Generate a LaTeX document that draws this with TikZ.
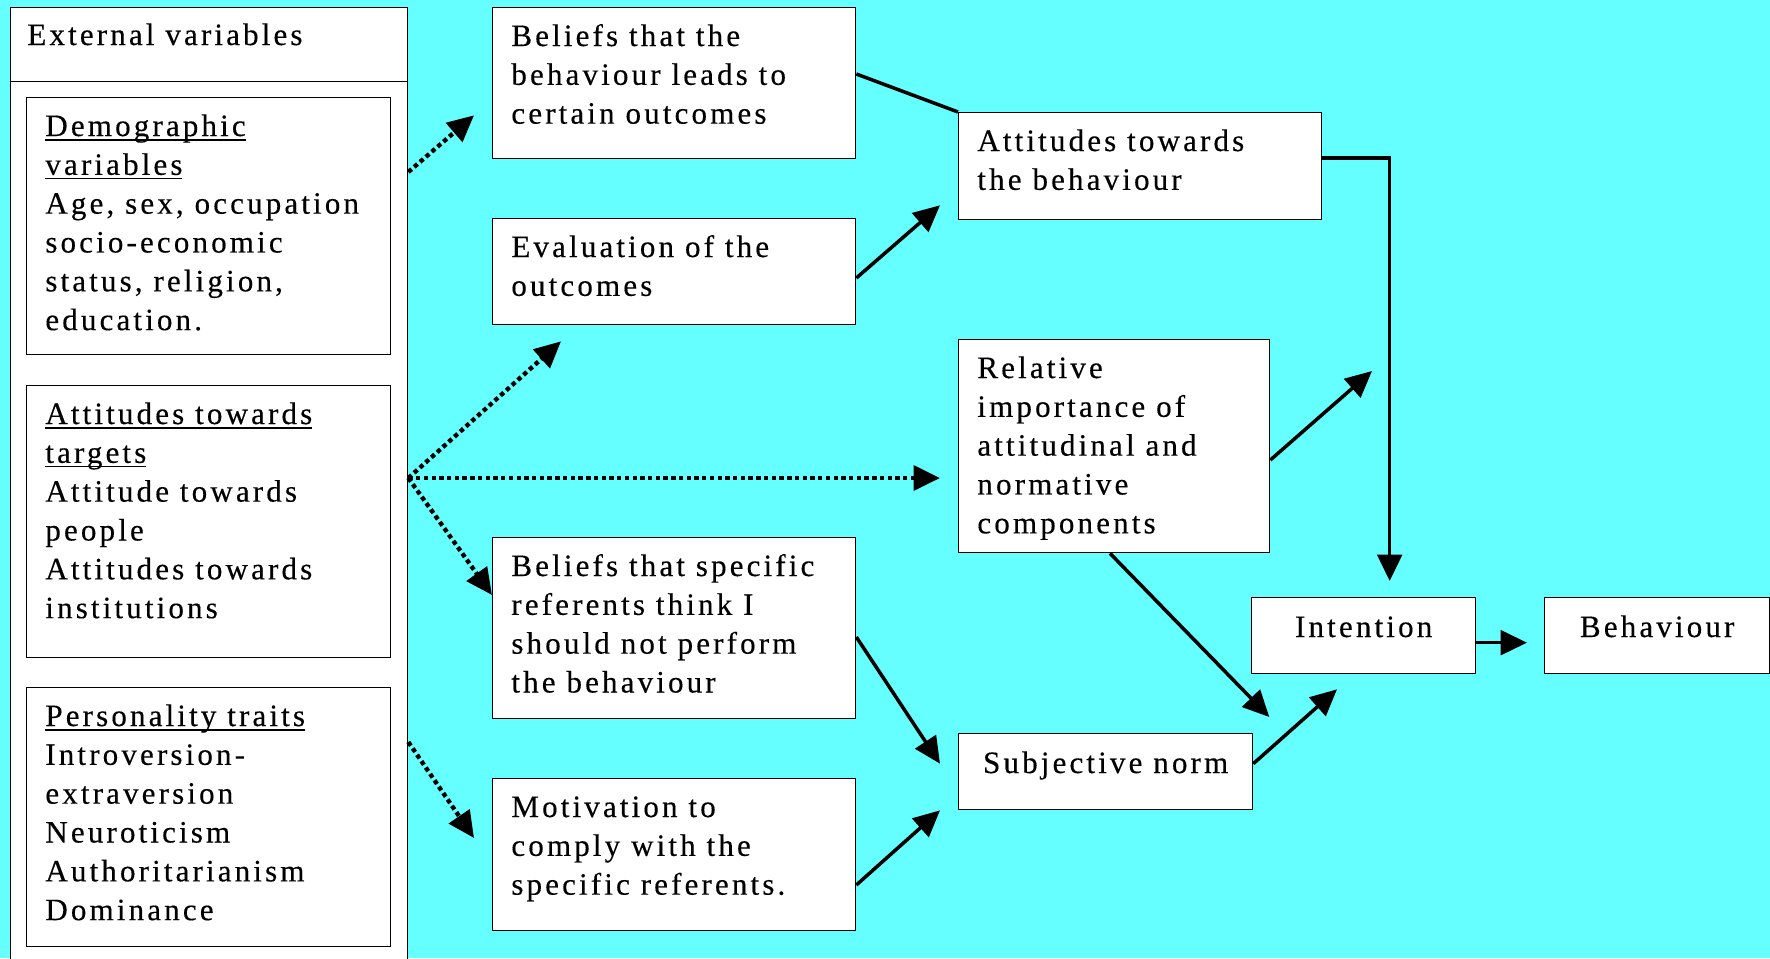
\documentclass[tikz,border=0pt]{standalone}
\usepackage{fontspec}
\setmainfont{Liberation Serif}[LetterSpace=10,FakeBold=0.3]
\usetikzlibrary{arrows.meta,calc}

\definecolor{bgcyan}{RGB}{102,255,255}
\newcommand{\und}[1]{\setbox0\hbox{#1}\rlap{\rule[-2.6pt]{\wd0}{0.8pt}}\box0}
\newcommand{\lines}[1]{\begin{tabular}[t]{@{}l@{}}#1\end{tabular}}

\tikzset{
  box/.style={draw, fill=white, line width=0.75pt, inner sep=0pt, anchor=north west},
  wh/.style 2 args={minimum width=#1*0.02cm, minimum height=#2*0.02cm},
  txt/.style={inner sep=0pt, anchor=base west},
  link/.style={line width=2pt, -{Triangle[length=15pt,width=14pt]}},
  infl/.style={link, line width=2.5pt, dash pattern=on 2.5pt off 1.9pt},
}

\begin{document}
\begin{tikzpicture}[x=0.02cm,y=-0.02cm,font=\fontsize{17.7}{22.1}\selectfont]
\fill[bgcyan] (0,0) rectangle (1770,958);
\useasboundingbox (0,0) rectangle (1770,958);

% external variables
\node[box, wh={397}{74}] (head) at (10,7) {};
\node[box, wh={397}{900}] (ext) at (10,81) {};
\node[box, wh={364}{257}] (demo) at (26,97) {};
\node[box, wh={364}{272}] (atti) at (26,385) {};
\node[box, wh={364}{259}] (pers) at (26,687) {};

\node[txt] (head-t) at ($(head.north west)+(17,38)$) {External variables};
\node[txt] (demo-t) at ($(demo.north west)+(19,39)$)
  {\lines{\und{Demographic}\\ \und{variables}\\ Age, sex, occupation\\ socio-economic\\ status, religion,\\ education.}};
\node[txt] (atti-t) at ($(atti.north west)+(19,39)$)
  {\lines{\und{Attitudes towards}\\ \und{targets}\\ Attitude towards\\ people\\ Attitudes towards\\ institutions}};
\node[txt] (pers-t) at ($(pers.north west)+(19,39)$)
  {\lines{\und{Personality traits}\\ Introversion-\\ extraversion\\ Neuroticism\\ Authoritarianism\\ Dominance}};

% beliefs and evaluations
\node[box, wh={363}{151}] (bel) at (492,7) {};
\node[box, wh={363}{106}] (eval) at (492,218) {};
\node[box, wh={363}{181}] (refb) at (492,537) {};
\node[box, wh={363}{152}] (mot) at (492,778) {};

\node[txt] (bel-t) at ($(bel.north west)+(19,39)$) {\lines{Beliefs that the\\ behaviour leads to\\ certain outcomes}};
\node[txt] (eval-t) at ($(eval.north west)+(19,39)$) {\lines{Evaluation of the\\ outcomes}};
\node[txt] (refb-t) at ($(refb.north west)+(19,39)$) {\lines{Beliefs that specific\\ referents think I\\ should not perform\\ the behaviour}};
\node[txt] (mot-t) at ($(mot.north west)+(19,39)$) {\lines{Motivation to\\ comply with the\\ specific referents.}};

% attitude, norm, intention
\node[box, wh={363}{107}] (attb) at (958,112) {};
\node[box, wh={311}{213}] (rel) at (958,339) {};
\node[box, wh={294}{76}] (subj) at (958,733) {};
\node[box, wh={224}{76}] (int) at (1251,597) {};
\node[box, wh={225}{76}] (beh) at (1544,597) {};

\node[txt] (attb-t) at ($(attb.north west)+(19,39)$) {\lines{Attitudes towards\\ the behaviour}};
\node[txt] (rel-t) at ($(rel.north west)+(19,39)$) {\lines{Relative\\ importance of\\ attitudinal and\\ normative\\ components}};
\node[txt, anchor=base] (subj-t) at ($(subj.north)+(0,40)$) {Subjective norm};
\node[txt, anchor=base] (int-t) at ($(int.north)+(0,40)$) {Intention};
\node[txt, anchor=base] (beh-t) at ($(beh.north)+(0,40)$) {Behaviour};

% dotted influences of the external variables
\coordinate (src) at ($(ext.north east)+(0,397)$);
\draw[infl] ($(ext.north east)+(0,91)$) -- ($(bel.south west)+(-18,-44)$);
\draw[infl] (src) -- ($(eval.south west)+(69,16)$);
\draw[infl] (src) -- ($(rel.north west)+(-18,139)$);
\draw[infl] (src) -- ($(refb.north west)+(0,58)$);
\draw[infl] ($(ext.north east)+(0,661)$) -- ($(mot.north west)+(-18,60)$);

% model
\draw[line width=2pt] ($(bel.north east)+(0,67)$) -- (attb.north west);
\draw[link] ($(eval.north east)+(0,60)$) -- ($(attb.south west)+(-18,-15)$);
\draw[link] ($(attb.north east)+(0,46)$) -| ($(int.north)+(26,-16)$);
\draw[link] ($(rel.north east)+(0,121)$) -- ($(int.north west)+(121,-226)$);
\draw[link] ($(rel.south west)+(152,0)$) -- ($(subj.north east)+(16,-16)$);
\draw[link] ($(refb.north east)+(0,100)$) -- ($(subj.west)+(-18,-8)$);
\draw[link] ($(mot.north east)+(0,107)$) -- ($(subj.south west)+(-18,0)$);
\draw[link] ($(subj.east)+(0,-8)$) -- ($(int.south west)+(86,15)$);
\draw[link] ($(int.east)+(0,7)$) -- ($(beh.west)+(-17,7)$);
\end{tikzpicture}
\end{document}
